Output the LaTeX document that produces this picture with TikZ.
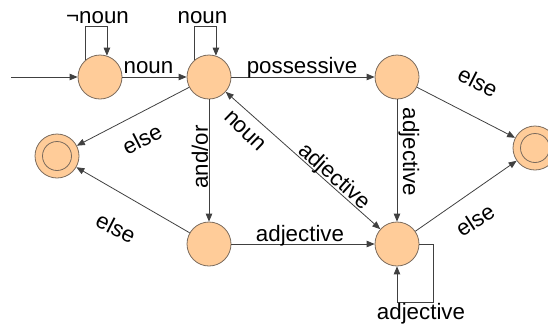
\documentclass[tikz,border=0pt]{standalone}
\usepackage{fontspec}
\setmainfont{Liberation Sans}
\usetikzlibrary{arrows.meta}
\definecolor{statefill}{HTML}{FFCC99}
\definecolor{stateline}{HTML}{7A6A5C}
\definecolor{edgeline}{HTML}{404040}
\tikzset{
  state/.style={circle, minimum size=44bp, inner sep=0pt, fill=statefill, draw=stateline, line width=0.8pt},
  ring/.style={draw=stateline, line width=0.8pt},
  arr/.style={draw=edgeline, line width=0.8pt, -{Triangle[length=8pt,width=6.5pt]}},
  arrboth/.style={draw=edgeline, line width=0.8pt, {Triangle[length=8pt,width=6.5pt]}-{Triangle[length=8pt,width=6.5pt]}},
  lbl/.style={inner sep=0pt, font=\fontsize{22.4}{26}\selectfont}
}
\begin{document}
\begin{tikzpicture}[x=1bp, y=-1bp]
  \useasboundingbox (0,0) rectangle (548,329);
  \clip (0,0) rectangle (548,329);

  % states
  \node[state] (A)  at (100,77)  {};
  \node[state] (B)  at (209,77)  {};
  \node[state] (C)  at (397,77)  {};
  \node[state] (F1) at (57,156)  {};
  \node[state] (D)  at (209,244) {};
  \node[state] (E)  at (397,244) {};
  \node[state] (F2) at (535,148) {};
  \draw[ring] (F1.center) circle[radius=14.5];
  \draw[ring] (F2.center) circle[radius=14.5];

  % start arrow
  \coordinate (start) at (11,77);
  \draw[arr] (start) -- (A);

  % self loops
  \draw[arr] (A.130) -- ++(0,-33) -| (A.72);
  \draw[arr] (B.130) -- ++(0,-33) -| (B.72);
  \draw[arr] (E.east) -| ++(14,58) -| (E.south);

  % transitions
  \draw[arr] (A) -- (B);
  \draw[arr] (B) -- (C);
  \draw[arr] (C) -- (F2);
  \draw[arr] (C) -- (E);
  \draw[arr] (B) -- (F1);
  \draw[arr] (B) -- (D);
  \draw[arrboth] (B) -- (E);
  \draw[arr] (D) -- (F1);
  \draw[arr] (D) -- (E);
  \draw[arr] (E) -- (F2);

  % labels
  \node[lbl] (lA)   at (97.5,17.5) {¬noun};
  \node[lbl] (lB)   at (202.5,17.5) {noun};
  \node[lbl] (lAB)  at (148.5,68) {noun};
  \node[lbl] (lBC)  at (302,68) {possessive};
  \node[lbl, rotate=-27] (lCF) at (478,82) {else};
  \node[lbl, rotate=-90] (lCE) at (409,152) {adjective};
  \node[lbl, rotate=27]  (lBF) at (142,139) {else};
  \node[lbl, rotate=90]  (lBD) at (200,157) {and/or};
  \node[lbl, rotate=-44] (lEB) at (245,131) {noun};
  \node[lbl, rotate=-41.6] (lBE) at (334,177) {adjective};
  \node[lbl, rotate=-27] (lDF) at (116,228) {else};
  \node[lbl] (lDE)  at (300,236) {adjective};
  \node[lbl, rotate=33]  (lEF) at (475,220) {else};
  \node[lbl] (lEE)  at (421,314) {adjective};
\end{tikzpicture}
\end{document}
